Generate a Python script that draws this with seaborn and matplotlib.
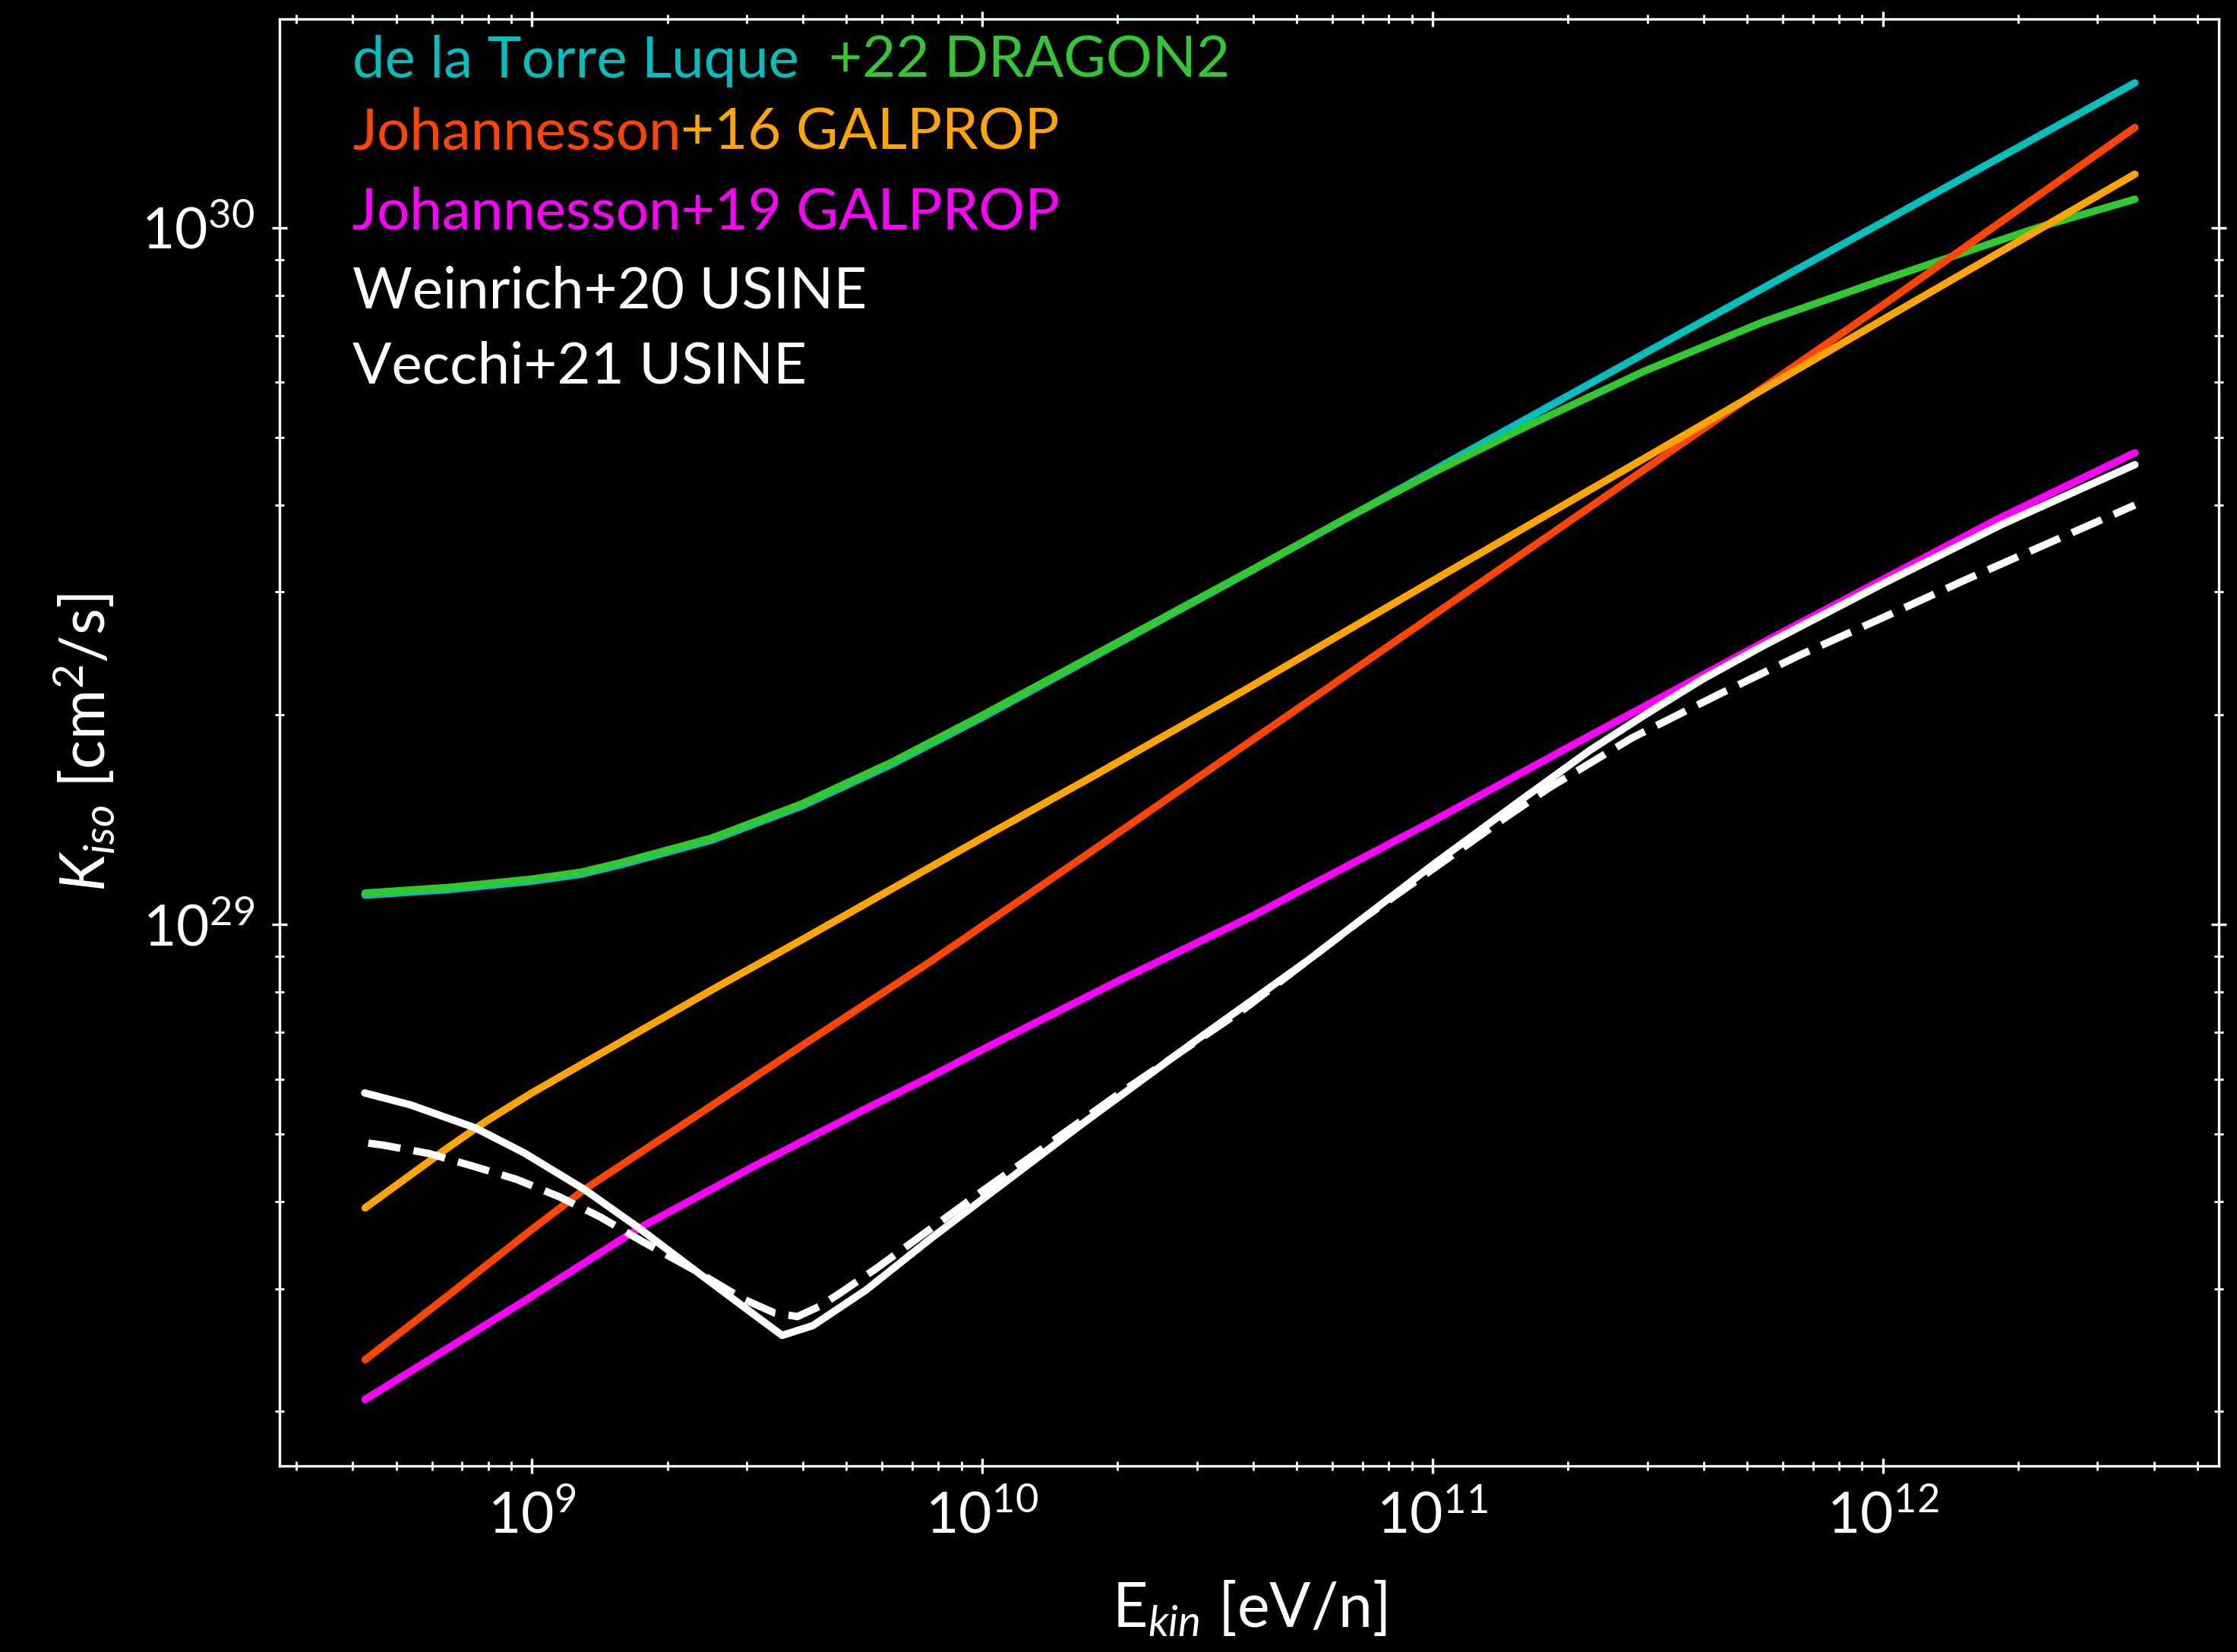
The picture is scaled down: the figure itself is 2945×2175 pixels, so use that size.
import numpy as np
import pandas as pd
import matplotlib
matplotlib.use("Agg")
import matplotlib.pyplot as plt
import seaborn as sns
from matplotlib.ticker import LogLocator, NullFormatter, LogFormatterMathtext

# values, as log10(E_kin [eV/n]) and log10(K_iso [cm^2/s])
torre_x = [8.63, 8.815, 9.0, 9.11, 9.2, 9.4, 9.6, 9.8, 10.0, 10.25, 10.585, 11.0, 11.5, 12.0, 12.56]
torre_y = [29.042, 29.050, 29.062, 29.072, 29.086, 29.121, 29.170, 29.230, 29.297, 29.385,
           29.503, 29.651, 29.830, 30.008, 30.208]

dragon_x = [8.63, 8.815, 9.0, 9.11, 9.2, 9.4, 9.6, 9.8, 10.0, 10.25, 10.585, 10.8, 11.0, 11.206,
            11.47, 11.735, 12.0, 12.123, 12.343, 12.56]
dragon_y = [29.045, 29.053, 29.065, 29.075, 29.089, 29.124, 29.173, 29.233, 29.300, 29.387,
            29.504, 29.580, 29.648, 29.714, 29.794, 29.865, 29.925, 29.952, 30.000, 30.041]

joh16a_x = [8.63, 8.8, 9.0, 9.118, 9.4, 9.6, 9.884, 10.25, 10.585, 11.0, 11.5, 12.0, 12.56]
joh16a_y = [28.375, 28.46, 28.562, 28.620, 28.74, 28.826, 28.946, 29.108, 29.258, 29.443,
            29.666, 29.889, 30.144]

joh16b_x = [8.63, 8.73, 8.815, 8.9, 9.0, 9.2, 9.4, 9.6, 9.86, 10.0, 10.25, 10.585, 11.0, 11.5,
            12.0, 12.56]
joh16b_y = [28.593, 28.640, 28.680, 28.718, 28.758, 28.832, 28.906, 28.978, 29.073, 29.124,
            29.214, 29.337, 29.493, 29.680, 29.868, 30.077]

joh19_x = [8.63, 8.8, 9.0, 9.236, 9.5, 9.75, 9.884, 10.0, 10.3, 10.6, 11.0, 11.33, 11.75, 12.0,
           12.25, 12.56]
joh19_y = [28.318, 28.386, 28.466, 28.563, 28.655, 28.738, 28.781, 28.82, 28.918, 29.012,
           29.148, 29.264, 29.41, 29.495, 29.58, 29.677]

weinrich_x = [8.629, 8.73, 8.874, 8.983, 9.118, 9.236, 9.363, 9.489, 9.556, 9.624, 9.742, 9.884,
              10.0, 10.221, 10.474, 10.727, 11.0, 11.2, 11.35, 11.47, 11.6, 11.735, 12.0,
              12.264, 12.56]
weinrich_y = [28.758, 28.741, 28.708, 28.672, 28.619, 28.565, 28.503, 28.442, 28.410, 28.424,
              28.475, 28.548, 28.605, 28.713, 28.833, 28.950, 29.085, 29.18, 29.25, 29.30,
              29.352, 29.40, 29.489, 29.574, 29.66]

vecchi_x = [8.637, 8.671, 8.772, 8.869, 8.966, 9.061, 9.152, 9.245, 9.363, 9.47, 9.54, 9.59,
            9.64, 9.683, 9.767, 9.856, 10.0, 10.103, 10.3, 10.585, 10.845, 11.166, 11.259,
            11.444, 11.629, 11.814, 11.999, 12.185, 12.374, 12.56]
vecchi_y = [28.686, 28.683, 28.671, 28.653, 28.634, 28.609, 28.580, 28.545, 28.503, 28.462,
            28.442, 28.437, 28.452, 28.470, 28.507, 28.549, 28.617, 28.664, 28.755, 28.880,
            29.008, 29.155, 29.196, 29.268, 29.328, 29.386, 29.440, 29.495, 29.549, 29.602]

series = [
    ("torre", torre_x, torre_y),
    ("dragon", dragon_x, dragon_y),
    ("joh16a", joh16a_x, joh16a_y),
    ("joh16b", joh16b_x, joh16b_y),
    ("joh19", joh19_x, joh19_y),
    ("weinrich", weinrich_x, weinrich_y),
    ("vecchi", vecchi_x, vecchi_y),
]
colors = {"torre": "#00BFBF", "dragon": "#32C832", "joh16a": "#FF4500", "joh16b": "#FFA500",
          "joh19": "#FF00FF", "weinrich": "white", "vecchi": "white"}
dash_map = {"torre": "", "dragon": "", "joh16a": "", "joh16b": "", "joh19": "",
            "weinrich": "", "vecchi": (4.4, 1.8)}

df = pd.concat([pd.DataFrame({"E": 10 ** np.array(x), "K": 10 ** np.array(y), "model": name})
                for name, x, y in series], ignore_index=True)

sns.set_theme(style="ticks")
plt.rcParams["font.family"] = ["Lato", "DejaVu Sans"]
plt.rcParams["mathtext.fontset"] = "custom"
plt.rcParams["mathtext.rm"] = "Lato"
plt.rcParams["mathtext.it"] = "Lato:italic"

fig = plt.figure(figsize=(14.725, 10.875), dpi=200, facecolor="black")
ax = fig.add_axes([0.125, 0.1126, 0.867, 0.876])
ax.set_facecolor("black")

order = [s[0] for s in series]
sns.lineplot(data=df, x="E", y="K", hue="model", style="model",
             hue_order=order, style_order=order,
             palette=colors, dashes=dash_map, linewidth=3.5,
             estimator=None, sort=False, legend=False, ax=ax)

ax.set_xscale("log")
ax.set_yscale("log")
ax.set_xlim(10 ** 8.44, 10 ** 12.747)
ax.set_ylim(10 ** 28.2225, 10 ** 30.30)

for axis in (ax.xaxis, ax.yaxis):
    axis.set_major_locator(LogLocator(base=10))
    axis.set_major_formatter(LogFormatterMathtext())
    axis.set_minor_locator(LogLocator(base=10, subs=np.arange(2, 10)))
    axis.set_minor_formatter(NullFormatter())

for sp in ax.spines.values():
    sp.set_color("white")
    sp.set_linewidth(1.2)
ax.tick_params(which="both", direction="inout", top=True, right=True,
               colors="white", labelcolor="white", labelsize=27)
ax.tick_params(which="major", length=7.5, width=1.2, pad=8)
ax.tick_params(which="minor", length=4, width=1.0)

ax.set_xlabel(r"E$_{kin}$ [eV/n]", color="white", fontsize=29, labelpad=17)
ax.set_ylabel(r"$K_{iso}$ [cm$^2$/s]", color="white", fontsize=29, labelpad=12)

# coloured legend lines
fs = 27.4
x0 = 0.0375
t = ax.text(x0, 0.9596, "de la Torre Luque", color=colors["torre"], fontsize=fs,
            transform=ax.transAxes, va="baseline")
ax.annotate("  +22 DRAGON2", xy=(1, 0), xycoords=t, va="bottom", ha="left",
            color=colors["dragon"], fontsize=fs)
t = ax.text(x0, 0.9099, "Johannesson", color=colors["joh16a"], fontsize=fs,
            transform=ax.transAxes, va="baseline")
ax.annotate("+16 GALPROP", xy=(1, 0), xycoords=t, va="bottom", ha="left",
            color=colors["joh16b"], fontsize=fs)
ax.text(x0, 0.8546, "Johannesson+19 GALPROP", color=colors["joh19"], fontsize=fs,
        transform=ax.transAxes, va="baseline")
ax.text(x0, 0.8002, "Weinrich+20 USINE", color="white", fontsize=fs,
        transform=ax.transAxes, va="baseline")
ax.text(x0, 0.7484, "Vecchi+21 USINE", color="white", fontsize=fs,
        transform=ax.transAxes, va="baseline")

fig.savefig("out.png", dpi=200, facecolor="black")
